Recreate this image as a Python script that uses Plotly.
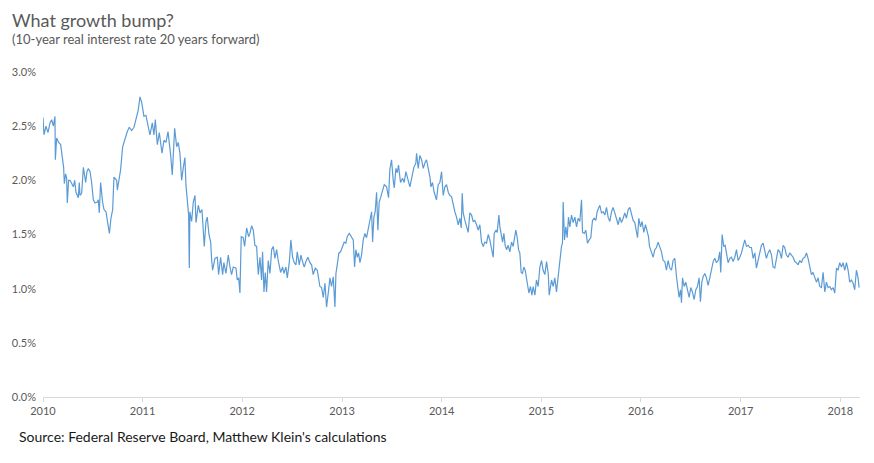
import pandas as pd
import plotly.graph_objects as go

# Decimal years elapsed since 2010-01-01
year_offsets = [
    0.000, 0.010, 0.030, 0.050, 0.070, 0.087, 0.104, 0.120, 0.124, 0.137, 0.157, 0.177, 0.187, 0.197, 0.207, 0.214,
    0.227, 0.237, 0.244, 0.257, 0.271, 0.288, 0.304, 0.318, 0.331, 0.354, 0.364, 0.371, 0.388, 0.405, 0.428, 0.441,
    0.455, 0.472, 0.488, 0.505, 0.522, 0.545, 0.555, 0.565, 0.578, 0.598, 0.612, 0.632, 0.649, 0.666, 0.682, 0.699,
    0.712, 0.739, 0.746, 0.766, 0.779, 0.799, 0.822, 0.846, 0.866, 0.889, 0.913, 0.933, 0.956, 0.973, 0.990, 1.013,
    1.033, 1.057, 1.073,
    1.097, 1.113, 1.127, 1.147, 1.167, 1.194, 1.214, 1.234, 1.254, 1.267, 1.281, 1.297, 1.307, 1.321, 1.341, 1.357,
    1.374, 1.391, 1.408, 1.424, 1.434, 1.448, 1.461, 1.468, 1.474, 1.491, 1.508, 1.525, 1.535, 1.558, 1.575, 1.595,
    1.608, 1.618, 1.635, 1.648, 1.665, 1.682, 1.692, 1.702, 1.725, 1.749, 1.762, 1.782, 1.802, 1.815, 1.835, 1.859,
    1.876, 1.892, 1.909, 1.936, 1.949, 1.963, 1.976, 1.989, 2.009, 2.023, 2.043, 2.063, 2.076,
    2.093, 2.110, 2.126, 2.143, 2.160, 2.177, 2.193, 2.203, 2.217, 2.230, 2.243, 2.260, 2.277, 2.294, 2.310, 2.327,
    2.344, 2.360, 2.384, 2.404, 2.417, 2.437, 2.451, 2.471, 2.487, 2.504, 2.521, 2.538, 2.551, 2.571, 2.588, 2.604,
    2.621, 2.638, 2.658, 2.678, 2.695, 2.711, 2.732, 2.752, 2.765, 2.778, 2.795, 2.812, 2.829, 2.845, 2.862, 2.879,
    2.895, 2.912, 2.929, 2.939, 2.952, 2.969, 2.986, 3.006, 3.022, 3.039, 3.052, 3.073,
    3.096, 3.113, 3.126, 3.139, 3.153, 3.166, 3.180, 3.196, 3.213, 3.230, 3.246, 3.263, 3.280, 3.297, 3.307, 3.320,
    3.333, 3.347, 3.360, 3.373, 3.387, 3.407, 3.424, 3.447, 3.467, 3.480, 3.497, 3.514, 3.524, 3.541, 3.554, 3.567,
    3.587, 3.607, 3.624, 3.641, 3.664, 3.681, 3.701, 3.721, 3.741, 3.748, 3.765, 3.781, 3.798, 3.815, 3.831, 3.848,
    3.865, 3.882, 3.892, 3.908, 3.925, 3.948, 3.965, 3.982, 3.999, 4.015, 4.032, 4.049, 4.066, 4.082,
    4.099, 4.116, 4.132, 4.149, 4.166, 4.183, 4.196, 4.206, 4.216, 4.233, 4.249, 4.266, 4.283, 4.300, 4.316, 4.333,
    4.350, 4.366, 4.383, 4.400, 4.417, 4.433, 4.450, 4.467, 4.483, 4.500, 4.517, 4.527, 4.544, 4.557, 4.574, 4.584,
    4.597, 4.611, 4.624, 4.637, 4.651, 4.667, 4.684, 4.701, 4.717, 4.734, 4.744, 4.758, 4.771, 4.784, 4.798, 4.811,
    4.824, 4.838, 4.851, 4.861, 4.875, 4.891, 4.905, 4.918, 4.935, 4.951, 4.968, 4.985, 5.002, 5.018, 5.035, 5.052,
    5.069, 5.079,
    5.102, 5.119, 5.135, 5.152, 5.169, 5.186, 5.202, 5.212, 5.219, 5.232, 5.246, 5.259, 5.272, 5.286, 5.303, 5.319,
    5.336, 5.353, 5.369, 5.386, 5.403, 5.413, 5.430, 5.446, 5.463, 5.480, 5.496, 5.513, 5.530, 5.547, 5.560, 5.577,
    5.587, 5.603, 5.620, 5.637, 5.654, 5.670, 5.687, 5.704, 5.720, 5.737, 5.754, 5.771, 5.787, 5.804, 5.821, 5.837,
    5.854, 5.871, 5.888, 5.904, 5.921, 5.938, 5.955, 5.965, 5.978, 5.995, 6.011, 6.028, 6.045, 6.061, 6.075, 6.085,
    6.105, 6.122, 6.138, 6.155, 6.172, 6.189, 6.205, 6.222, 6.239, 6.255, 6.272, 6.289, 6.306, 6.322, 6.339, 6.356,
    6.372, 6.382, 6.396, 6.406, 6.416, 6.433, 6.449, 6.466, 6.483, 6.499, 6.516, 6.533, 6.550, 6.566, 6.583, 6.596,
    6.610, 6.623, 6.640, 6.657, 6.673, 6.690, 6.707, 6.724, 6.740, 6.757, 6.774, 6.790, 6.800, 6.814, 6.830, 6.844,
    6.857, 6.874, 6.891, 6.907, 6.924, 6.941, 6.958, 6.974, 6.991, 7.008, 7.024, 7.041, 7.058, 7.075, 7.091,
    7.108, 7.125, 7.142, 7.158, 7.175, 7.192, 7.208, 7.225, 7.242, 7.258, 7.275, 7.292, 7.309, 7.325, 7.342, 7.359,
    7.375, 7.392, 7.409, 7.426, 7.442, 7.459, 7.476, 7.492, 7.509, 7.526, 7.543, 7.559, 7.576, 7.593, 7.609, 7.626,
    7.643, 7.660, 7.676, 7.693, 7.710, 7.726, 7.743, 7.760, 7.777, 7.793, 7.810, 7.827, 7.844, 7.860, 7.877, 7.894,
    7.910, 7.927, 7.944, 7.961, 7.977, 7.994, 8.011, 8.027, 8.044, 8.061, 8.078, 8.094, 8.111, 8.128, 8.144, 8.161,
    8.178, 8.188,
]

# 10-year real interest rate 20 years forward, percent
rate_pct = [
    2.58, 2.42, 2.50, 2.44, 2.53, 2.56, 2.50, 2.59, 2.19, 2.39, 2.35, 2.33, 2.26, 2.16, 2.12, 1.97,
    2.06, 2.02, 1.79, 2.00, 2.00, 1.97, 1.94, 2.00, 1.89, 1.84, 1.98, 1.86, 1.88, 2.12, 1.98, 2.08,
    2.11, 2.08, 1.98, 1.82, 1.79, 1.80, 1.82, 1.70, 1.98, 1.80, 1.73, 1.71, 1.61, 1.51, 1.65, 1.73,
    2.03, 2.00, 1.91, 2.05, 2.10, 2.31, 2.39, 2.45, 2.49, 2.46, 2.49, 2.58, 2.65, 2.77, 2.72, 2.59,
    2.60, 2.49, 2.42,
    2.53, 2.42, 2.56, 2.33, 2.44, 2.25, 2.37, 2.35, 2.45, 2.35, 2.23, 2.05, 2.21, 2.48, 2.31, 2.35,
    2.25, 2.00, 2.12, 2.21, 1.96, 1.79, 1.68, 1.19, 1.71, 1.62, 1.80, 1.86, 1.61, 1.77, 1.70, 1.73,
    1.50, 1.39, 1.62, 1.66, 1.50, 1.43, 1.27, 1.17, 1.28, 1.29, 1.13, 1.29, 1.13, 1.24, 1.14, 1.31,
    1.20, 1.13, 1.20, 1.19, 1.08, 1.10, 0.96, 1.48, 1.47, 1.39, 1.56, 1.48, 1.51,
    1.58, 1.54, 1.40, 1.39, 1.13, 1.29, 1.08, 1.34, 0.97, 1.15, 0.97, 1.26, 1.14, 1.36, 1.39, 1.28,
    1.36, 1.26, 1.15, 1.20, 1.14, 1.20, 1.10, 1.24, 1.45, 1.29, 1.24, 1.22, 1.34, 1.22, 1.31, 1.25,
    1.20, 1.25, 1.29, 1.24, 1.22, 1.13, 1.19, 1.17, 1.10, 1.02, 1.01, 0.92, 1.05, 0.83, 0.96, 1.10,
    1.02, 1.11, 0.83, 1.14, 1.22, 1.33, 1.34, 1.40, 1.43, 1.42, 1.48, 1.51,
    1.48, 1.45, 1.20, 1.36, 1.29, 1.33, 1.24, 1.31, 1.45, 1.51, 1.47, 1.56, 1.63, 1.71, 1.43, 1.66,
    1.71, 1.89, 1.54, 1.80, 1.84, 1.91, 1.96, 1.94, 1.84, 2.10, 2.19, 2.00, 1.93, 2.11, 2.07, 2.14,
    1.98, 2.02, 1.98, 2.08, 2.00, 1.94, 2.03, 2.12, 2.16, 2.25, 2.11, 2.23, 2.19, 2.11, 2.16, 2.19,
    2.11, 2.03, 1.94, 1.98, 1.89, 1.82, 1.96, 1.98, 2.08, 1.86, 1.94, 1.96, 1.89, 1.86,
    1.85, 1.77, 1.71, 1.66, 1.59, 1.65, 1.56, 1.88, 1.70, 1.63, 1.57, 1.52, 1.70, 1.68, 1.62, 1.63,
    1.59, 1.54, 1.59, 1.43, 1.39, 1.43, 1.42, 1.50, 1.45, 1.36, 1.29, 1.51, 1.54, 1.52, 1.68, 1.57,
    1.48, 1.43, 1.51, 1.40, 1.36, 1.40, 1.34, 1.43, 1.39, 1.47, 1.54, 1.47, 1.36, 1.33, 1.15, 1.14,
    1.20, 1.17, 1.08, 1.05, 0.96, 1.02, 0.94, 1.02, 0.94, 1.08, 1.02, 1.20, 1.26, 1.17, 1.13, 1.25,
    1.14, 0.94,
    1.08, 1.02, 1.10, 0.97, 1.13, 1.24, 1.39, 1.42, 1.80, 1.45, 1.57, 1.47, 1.66, 1.57, 1.68, 1.61,
    1.66, 1.57, 1.65, 1.62, 1.82, 1.52, 1.51, 1.54, 1.42, 1.45, 1.47, 1.63, 1.65, 1.63, 1.71, 1.75,
    1.77, 1.70, 1.71, 1.68, 1.75, 1.66, 1.62, 1.71, 1.75, 1.70, 1.63, 1.59, 1.66, 1.61, 1.65, 1.70,
    1.65, 1.73, 1.75, 1.70, 1.63, 1.61, 1.51, 1.47, 1.65, 1.57, 1.62, 1.52, 1.59, 1.54, 1.48, 1.39,
    1.33, 1.29, 1.36, 1.38, 1.43, 1.38, 1.34, 1.26, 1.25, 1.17, 1.26, 1.19, 1.17, 1.26, 1.28, 1.11,
    1.01, 0.92, 0.99, 0.87, 1.10, 1.02, 1.06, 0.97, 0.92, 1.01, 0.97, 0.90, 0.99, 1.02, 1.10, 0.88,
    1.06, 1.11, 1.14, 1.10, 1.03, 1.10, 1.17, 1.25, 1.28, 1.24, 1.26, 1.34, 1.15, 1.50, 1.39, 1.40,
    1.33, 1.24, 1.28, 1.29, 1.25, 1.29, 1.36, 1.26, 1.29, 1.33, 1.39, 1.45, 1.39, 1.40, 1.38,
    1.38, 1.28, 1.33, 1.19, 1.26, 1.34, 1.40, 1.42, 1.33, 1.28, 1.33, 1.36, 1.31, 1.20, 1.19, 1.28,
    1.36, 1.34, 1.28, 1.40, 1.38, 1.31, 1.29, 1.33, 1.31, 1.29, 1.25, 1.24, 1.22, 1.26, 1.24, 1.28,
    1.29, 1.33, 1.28, 1.19, 1.13, 1.15, 1.11, 1.06, 1.10, 1.02, 1.01, 1.15, 0.97, 1.06, 1.01, 1.02,
    0.99, 1.01, 0.96, 1.19, 1.17, 1.24, 1.20, 1.24, 1.17, 1.24, 1.17, 1.06, 1.08, 1.05, 0.99, 1.17,
    1.10, 1.01,
]

y_tick_vals = [0.0, 0.5, 1.0, 1.5, 2.0, 2.5, 3.0]
x_tick_labels = ["2010", "2011", "2012", "2013", "2014", "2015", "2016", "2017", "2018"]

title_text = "What growth bump?"
subtitle_text = "(10-year real interest rate 20 years forward)"
source_text = "Source: Federal Reserve Board, Matthew Klein's calculations"

base = pd.Timestamp("2010-01-01")
dates = [base + pd.Timedelta(days=o * 365.25) for o in year_offsets]

fig = go.Figure()
fig.add_trace(go.Scatter(
    x=dates, y=rate_pct, mode="lines",
    line=dict(color="#5B9BD5", width=1.2),
    hoverinfo="x+y", showlegend=False,
))

grey = "#595959"
fnt = "Lato, 'Open Sans', sans-serif"

fig.update_layout(
    width=866, height=455,
    margin=dict(l=35, r=14, t=64, b=66, autoexpand=False),
    paper_bgcolor="white", plot_bgcolor="white",
    font=dict(family=fnt, color=grey, size=11),
    xaxis=dict(
        type="date",
        range=[base, pd.Timestamp("2018-03-14")],
        tickvals=[pd.Timestamp(f"{y}-01-01") for y in x_tick_labels],
        ticktext=x_tick_labels,
        showgrid=False, zeroline=False,
        showline=True, linecolor="#d9d9d9", linewidth=1,
        ticks="outside", ticklen=4, tickcolor="#d9d9d9",
        tickfont=dict(size=11, color=grey),
        automargin=False,
    ),
    yaxis=dict(
        range=[0, 3.0],
        tickvals=y_tick_vals,
        ticktext=[f"{v:.1f}%" for v in y_tick_vals],
        showgrid=False, zeroline=False, showline=False,
        ticks="", ticklen=0, ticklabelstandoff=6,
        tickfont=dict(size=11, color=grey),
        automargin=False,
    ),
    annotations=[
        dict(text=title_text, xref="paper", yref="paper", x=-0.041, y=1.16,
             xanchor="left", yanchor="middle", showarrow=False,
             font=dict(size=18, color=grey, family=fnt)),
        dict(text=subtitle_text, xref="paper", yref="paper", x=-0.041, y=1.102,
             xanchor="left", yanchor="middle", showarrow=False,
             font=dict(size=13, color=grey, family=fnt)),
        dict(text=source_text, xref="paper", yref="paper", x=-0.032, y=-0.123,
             xanchor="left", yanchor="middle", showarrow=False,
             font=dict(size=14, color="#1a1a1a", family=fnt)),
    ],
)

fig.write_html("out.html")
